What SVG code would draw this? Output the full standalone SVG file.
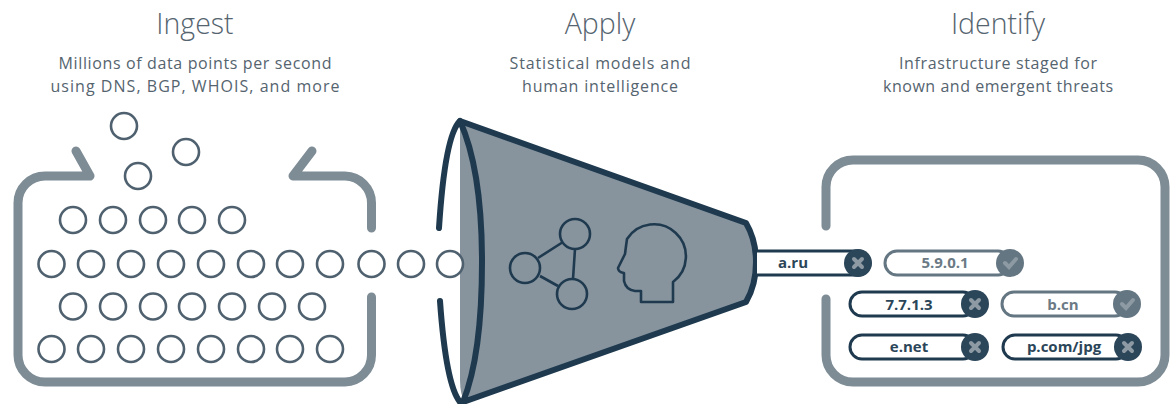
<svg xmlns="http://www.w3.org/2000/svg" width="1173" height="404" viewBox="0 0 1173 404">
<style>
text{font-family:"Open Sans","Liberation Sans",sans-serif;text-anchor:middle}
.h{font-size:28.500px;fill:#55646f;font-weight:300}
.s{font-size:16px;fill:#55646f}
.c circle{fill:#fff;stroke:#4f616f;stroke-width:2.600}
.f{fill:none;stroke:#7e8c95;stroke-width:9;stroke-linecap:round;stroke-linejoin:round}
.e{fill:none;stroke:#1f3a4f;stroke-width:6;stroke-linecap:round;stroke-linejoin:round}
.pd rect,.pd path.l{fill:#fff;stroke:#1f3a4f;stroke-width:3}
.pd circle{fill:#2b4559}
.pd text{fill:#2b4559}
.pl rect{fill:#fff;stroke:#647682;stroke-width:3}
.pl circle{fill:#647682}
.pl text{fill:#6b7a85}
.p text{font-size:15px;font-weight:700}
.x{fill:none;stroke:#8d9aa3;stroke-width:4;stroke-linecap:round}
</style>
<g id="titles">
<text class="h" x="195" y="34">Ingest</text>
<text class="s" x="195" y="69" textLength="273">Millions of data points per second</text>
<text class="s" x="195" y="92" textLength="289">using DNS, BGP, WHOIS, and more</text>
<text class="h" x="600" y="34">Apply</text>
<text class="s" x="600" y="69" textLength="181">Statistical models and</text>
<text class="s" x="600" y="92" textLength="156">human intelligence</text>
<text class="h" x="998" y="34">Identify</text>
<text class="s" x="998" y="69" textLength="198">Infrastructure staged for</text>
<text class="s" x="998" y="92" textLength="230">known and emergent threats</text>
</g>
<g id="ingest-frame">
<path class="f" d="M76 151L90 176H45A27 27 0 0 0 18 203V355A27 27 0 0 0 45 382H345A27 27 0 0 0 371.500 355V297"/>
<path class="f" d="M312 151L293 176H345A27 27 0 0 1 371.500 203V228"/>
</g>
<g id="funnel">
<path d="M460 121L746 223Q756 240 756 262Q756 285 746 302L465 402Q460 395 460 380Z" fill="#87949e"/>
<path class="e" d="M460 121Q445 135 439 228"/>
<path class="e" d="M440 301Q446 385 460 402"/>
<path class="e" d="M460 121Q482 170 482 262Q482 355 463 402L746 302Q756 285 756 262Q756 240 746 223Z"/>
<g fill="none" stroke="#1f3a4f" stroke-width="2.600">
<path d="M538 258L563 242M540 276L558 286M575 249L573 279"/>
<circle cx="575" cy="234" r="15"/><circle cx="525" cy="268" r="15"/><circle cx="572" cy="294" r="15"/>
<path d="M673 302V282A32 32 0 1 0 627 239Q626 246 625 254L618 268Q618 272 624 273V281Q626 290 635 291H641V302Z" stroke-linejoin="round"/>
</g>
</g>
<g id="particles" class="c">
<circle cx="124" cy="126" r="13"/><circle cx="186" cy="152" r="13"/><circle cx="138" cy="176" r="13"/>
<circle cx="73" cy="220" r="13"/><circle cx="113" cy="220" r="13"/><circle cx="153" cy="220" r="13"/><circle cx="192" cy="220" r="13"/><circle cx="232" cy="220" r="13"/>
<circle cx="51.500" cy="264" r="13"/><circle cx="91" cy="264" r="13"/><circle cx="131" cy="264" r="13"/><circle cx="171" cy="264" r="13"/><circle cx="211" cy="264" r="13"/><circle cx="251" cy="264" r="13"/><circle cx="290" cy="264" r="13"/><circle cx="330" cy="264" r="13"/><circle cx="371.500" cy="264" r="13"/><circle cx="411" cy="264" r="13"/><circle cx="450" cy="264" r="13"/>
<circle cx="73" cy="306.500" r="13"/><circle cx="113" cy="306.500" r="13"/><circle cx="153" cy="306.500" r="13"/><circle cx="192" cy="306.500" r="13"/><circle cx="232" cy="306.500" r="13"/><circle cx="272" cy="306.500" r="13"/><circle cx="312" cy="306.500" r="13"/>
<circle cx="51.500" cy="349" r="13"/><circle cx="91" cy="349" r="13"/><circle cx="131" cy="349" r="13"/><circle cx="171" cy="349" r="13"/><circle cx="211" cy="349" r="13"/><circle cx="251" cy="349" r="13"/><circle cx="290" cy="349" r="13"/><circle cx="330" cy="349" r="13"/>
</g>
<g id="identify-frame">
<path class="f" d="M826 226V187A27 27 0 0 1 853 160H1138A27 27 0 0 1 1165 187V355A27 27 0 0 1 1138 382H853A27 27 0 0 1 826 355V299"/>
</g>
<g id="pill-aru" class="p pd">
<path class="l" d="M757 251H858A12 12 0 0 1 858 275H757"/>
<circle cx="858" cy="263" r="14"/>
<path class="x" d="M854 259l8 8M862 259l-8 8"/>
<text x="793" y="268">a.ru</text>
</g>
<g id="pill-5901" class="p pl">
<rect x="885" y="251" width="125" height="24" rx="12"/>
<circle cx="1010" cy="263" r="14"/>
<path class="x" d="M1005 263l4 4 7-8"/>
<text x="945" y="268">5.9.0.1</text>
</g>
<g id="pill-7713" class="p pd">
<rect x="850" y="292" width="125" height="24" rx="12"/>
<circle cx="975" cy="304" r="14"/>
<path class="x" d="M971 300l8 8M979 300l-8 8"/>
<text x="909" y="310">7.7.1.3</text>
</g>
<g id="pill-bcn" class="p pl">
<rect x="1002" y="292" width="125" height="24" rx="12"/>
<circle cx="1127" cy="304" r="14"/>
<path class="x" d="M1122 304l4 4 7-8"/>
<text x="1063" y="310">b.cn</text>
</g>
<g id="pill-enet" class="p pd">
<rect x="850" y="335" width="125" height="24" rx="12"/>
<circle cx="975" cy="347" r="14"/>
<path class="x" d="M971 343l8 8M979 343l-8 8"/>
<text x="909" y="352">e.net</text>
</g>
<g id="pill-pcom" class="p pd">
<rect x="1003" y="335" width="125" height="24" rx="12"/>
<circle cx="1128" cy="347" r="14"/>
<path class="x" d="M1124 343l8 8M1132 343l-8 8"/>
<text x="1064" y="352">p.com/jpg</text>
</g>
</svg>
